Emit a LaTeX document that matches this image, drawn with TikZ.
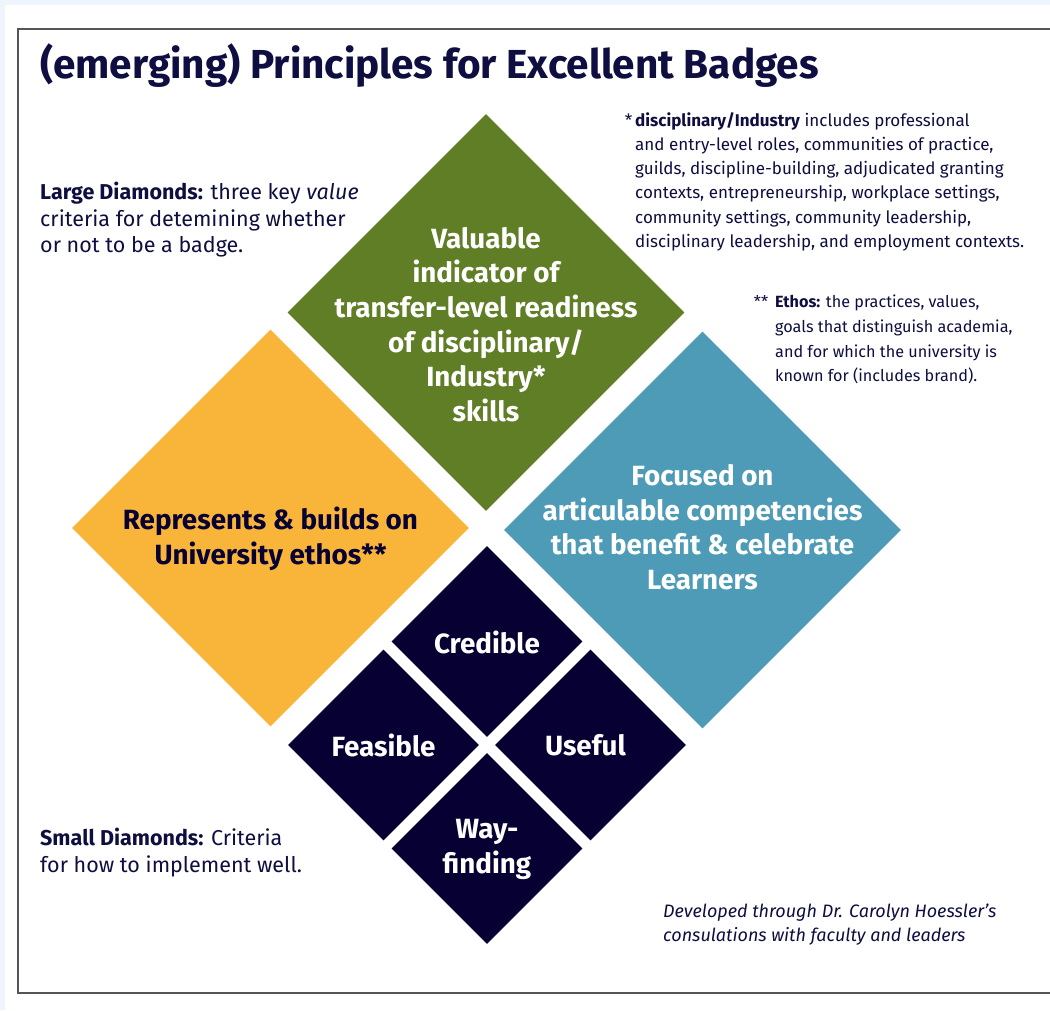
\documentclass[tikz,border=0pt]{standalone}
\usepackage{fontspec}
\setmainfont{Fira Sans}
\usetikzlibrary{shapes.geometric}

\definecolor{navy}{RGB}{6,0,51}
\definecolor{inkblue}{RGB}{14,14,64}
\definecolor{leaf}{RGB}{95,126,38}
\definecolor{amber}{RGB}{249,180,58}
\definecolor{seablue}{RGB}{77,155,182}
\definecolor{framegray}{RGB}{85,85,85}
\definecolor{paleblue}{RGB}{238,245,253}

\newcommand\titlefont{\bfseries\fontsize{40.5}{46}\selectfont}
\newcommand\diamondfont{\bfseries\fontsize{27.8}{34.6}\selectfont}
\newcommand\notefont{\fontsize{21.5}{26.5}\selectfont}
\newcommand\starfont{\fontsize{17}{24.3}\selectfont}
\newcommand\ethosfont{\fontsize{16.2}{24.6}\selectfont}
\newcommand\creditfont{\itshape\fontsize{18}{24}\selectfont}

\begin{document}
\begin{tikzpicture}[x=1pt,y=-1pt,
  bigdiamond/.style={diamond,minimum width=397pt,minimum height=397pt,inner sep=0pt},
  smalldiamond/.style={diamond,fill=navy,minimum width=191pt,minimum height=191pt,inner sep=0pt},
  bigtext/.style={align=center,font=\diamondfont,inner sep=0pt},
  note/.style={anchor=north west,align=left,inner sep=0pt,text=inkblue}]
\useasboundingbox (0,0) rectangle (1050,1010);
\fill[paleblue] (0,0) rectangle (1050,1010);
\fill[white] (5,5) rectangle (1050,1010);
\draw[framegray,line width=2pt] (1070,29) -- (18,29) -- (18,993) -- (1070,993);

\node[note,font=\titlefont] (title) at (40,44) {(emerging) Principles for Excellent Badges};

\node[bigdiamond,fill=leaf] (valuable) at (486,312.5) {};
\node[bigdiamond,fill=amber] (ethos) at (270.5,528) {};
\node[bigdiamond,fill=seablue] (focused) at (702.5,530) {};
\node[bigtext,text=white] at (valuable) [yshift=-12pt] {Valuable\\indicator of\\transfer-level readiness\\of disciplinary/\\Industry*\\skills};
\node[bigtext,text=navy] at (ethos) [yshift=-11pt] {Represents \& builds on\\University ethos**};
\node[bigtext,text=white] at (focused) [yshift=3pt] {Focused on\\articulable competencies\\that benefit \& celebrate\\Learners};

\node[smalldiamond] (credible) at (487,641.5) {};
\node[smalldiamond] (feasible) at (383.5,745) {};
\node[smalldiamond] (useful) at (590.5,745) {};
\node[smalldiamond] (wayfinding) at (487,848.5) {};
\node[bigtext,text=white] at (credible) [yshift=-1pt] {Credible};
\node[bigtext,text=white] at (feasible) {Feasible};
\node[bigtext,text=white] at (useful) [xshift=-5pt] {Useful};
\node[bigtext,text=white] at (wayfinding) [yshift=-1pt] {Way-\\finding};

\node[note,font=\notefont] (largenote) at (40,182) {\textbf{Large Diamonds:} three key \textit{value}\\criteria for detemining whether\\or not to be a badge.};
\node[note,font=\notefont] (smallnote) at (40,828) {\textbf{Small Diamonds:} Criteria\\for how to implement well.};
\node[note,font=\starfont] (disciplinenote) at (635,112) {\llap{*\,}\textbf{disciplinary/Industry} includes professional\\and entry-level roles, communities of practice,\\guilds, discipline-building, adjudicated granting\\contexts, entrepreneurship, workplace settings,\\community settings, community leadership,\\disciplinary leadership, and employment contexts.};
\node[note,font=\ethosfont] (ethosnote) at (775,295) {\llap{**\hspace{7pt}}\textbf{Ethos:} the practices, values,\\goals that distinguish academia,\\and for which the university is\\known for (includes brand).};
\node[note,font=\creditfont] (credit) at (663,904) {Developed through Dr. Carolyn Hoessler’s\\consulations with faculty and leaders};
\end{tikzpicture}
\end{document}
